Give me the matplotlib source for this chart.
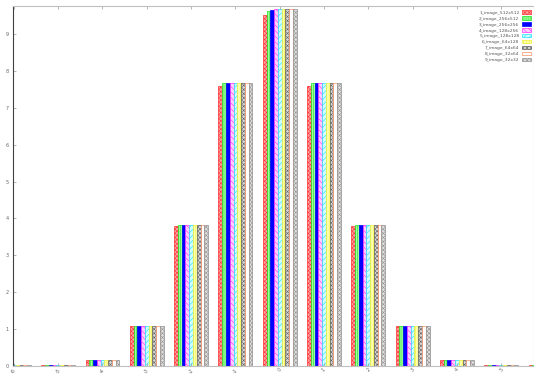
import numpy as np
import matplotlib.pyplot as plt
import matplotlib.patches as mpatches

# histogram data
groups = ['-6', '-5', '-4', '-3', '-2', '-1', '0', '1', '2', '3', '4', '5', '6']
labels = ['1_image_512x512', '2_image_256x512', '3_image_256x256', '4_image_128x256',
          '5_image_128x128', '6_image_64x128', '7_image_64x64', '8_image_32x64', '9_image_32x32']

s1 = [0.02, 0.03, 0.15, 1.08, 3.80, 7.58, 9.51, 7.58, 3.80, 1.08, 0.15, 0.03, 0.02]
s2 = [0.02, 0.03, 0.16, 1.09, 3.81, 7.66, 9.63, 7.66, 3.81, 1.09, 0.16, 0.03, 0.02]
s3 = [0.02, 0.03, 0.16, 1.09, 3.81, 7.66, 9.66, 7.66, 3.81, 1.09, 0.16, 0.03, 0.02]
s4 = [0.02, 0.03, 0.16, 1.09, 3.81, 7.66, 9.68, 7.66, 3.81, 1.09, 0.16, 0.03, 0.02]
s5 = [0.02, 0.03, 0.16, 1.09, 3.81, 7.66, 9.68, 7.66, 3.81, 1.09, 0.16, 0.03, 0.02]
s6 = [0.02, 0.03, 0.16, 1.09, 3.81, 7.66, 9.68, 7.66, 3.81, 1.09, 0.16, 0.03, 0.02]
s7 = [0.02, 0.03, 0.16, 1.09, 3.81, 7.66, 9.68, 7.66, 3.81, 1.09, 0.16, 0.03, 0.02]
s8 = [0.02, 0.03, 0.16, 1.09, 3.81, 7.66, 9.68, 7.66, 3.81, 1.09, 0.16, 0.03, 0.02]
s9 = [0.02, 0.03, 0.16, 1.09, 3.81, 7.66, 9.68, 7.66, 3.81, 1.09, 0.16, 0.03, 0.02]
series = [s1, s2, s3, s4, s5, s6, s7, s8, s9]

# gnuplot-ish fill styles: (edge colour, face colour, hatch)
styles = [('#ff3030', '#ffa0a0', 'xxxxxxxx'),
          ('#20e020', '#a0ffa0', '||||||||'),
          ('#0000ff', '#0000ff', ''),
          ('#ff30ff', '#ffd0ff', '\\\\\\\\\\\\'),
          ('#20e0ff', '#d0ffff', '//////'),
          ('#f0f030', '#ffffb0', '||||||'),
          ('#606060', '#d8d8d8', 'xxxxxxxx'),
          ('#ff9060', 'white', ''),
          ('#909090', '#e0e0e0', 'xxxxxxxx')]

plt.rcParams['hatch.linewidth'] = 0.4

fig = plt.figure(figsize=(5.34, 3.74), dpi=100)
ax = fig.add_axes([13/534, 8/374, 521/534, 360/374])

x = np.arange(len(groups))
nser = len(series)
w = 0.085
for i, (vals, (ec, fc, hatch)) in enumerate(zip(series, styles)):
    off = (i - (nser - 1) / 2) * w
    ax.bar(x + off, vals, width=w, color=fc, edgecolor=ec, hatch=hatch,
           linewidth=0.5, label=labels[i])

ax.set_yticks(range(10))
ax.set_xticks(x)
ax.set_xticklabels(groups, rotation=45, fontsize=3.5, color='#666666')
# limits after the ticks, set_xticks would widen them
ax.set_xlim(-0.02, 11.74)
ax.set_ylim(0, 9.76)
ax.tick_params(axis='y', labelsize=3.5, labelcolor='#666666', direction='in',
               length=2, width=0.5, color='#999999', pad=3)
ax.tick_params(axis='x', direction='in', length=2, width=0.5, color='#999999', pad=1,
               top=True)
for s in ['top', 'bottom', 'right']:
    ax.spines[s].set_color('#c0c0c0')
    ax.spines[s].set_linewidth(0.8)
ax.spines['left'].set_color('#404040')
ax.spines['left'].set_linewidth(0.8)

handles = [mpatches.Patch(facecolor=fc, edgecolor=ec, hatch=h, linewidth=0.5)
           for ec, fc, h in styles]
ax.legend(handles, labels, loc='upper right', bbox_to_anchor=(1.0, 0.995),
          fontsize=3.2, frameon=False, markerfirst=False, handlelength=2.2,
          handleheight=0.7, labelspacing=0.42, handletextpad=0.5,
          borderaxespad=0.2, labelcolor='#555555')

fig.savefig('out.png', dpi=100)
